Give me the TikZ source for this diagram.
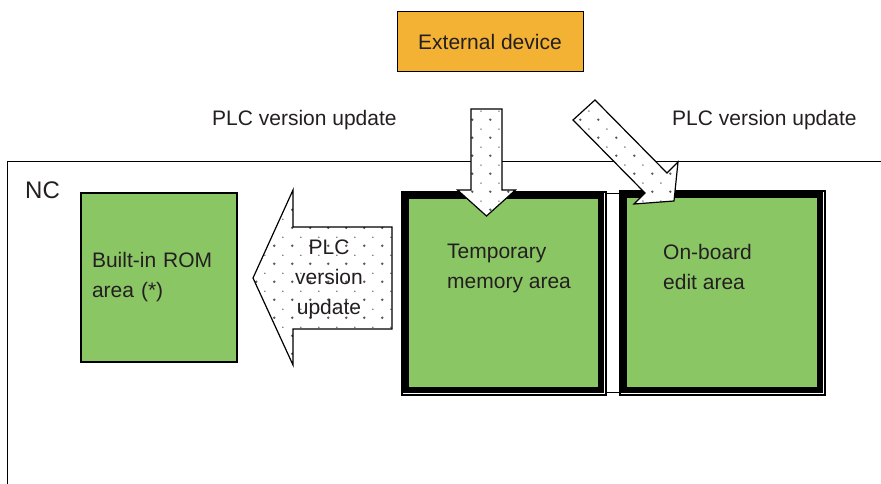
\documentclass[tikz,border=0pt]{standalone}
\usepackage{fontspec}
\setmainfont{Liberation Sans}
\usetikzlibrary{patterns}
\definecolor{extorange}{RGB}{244,178,52}
\definecolor{areagreen}{RGB}{139,198,101}
\definecolor{inkgray}{RGB}{35,31,32}

% dotted fill of the block arrows
\pgfdeclarepatternformonly{plcdots}{\pgfqpoint{0pt}{0pt}}{\pgfqpoint{18pt}{18pt}}{\pgfqpoint{18pt}{18pt}}{%
  \pgfpathcircle{\pgfqpoint{4.5pt}{4.5pt}}{1.4pt}
  \pgfpathcircle{\pgfqpoint{13.5pt}{13.5pt}}{0.8pt}
  \pgfusepath{fill}}

\begin{document}
\begin{tikzpicture}[x=1pt, y=-1pt,
  txt/.style={font=\fontsize{21}{30}\selectfont, text=inkgray, inner sep=0pt},
  extbox/.style={rectangle, draw=black, fill=extorange, line width=1pt, minimum width=186pt, minimum height=60pt, txt},
  rombox/.style={rectangle, draw=black, fill=areagreen, line width=1.2pt, minimum width=156pt, minimum height=169pt, text width=134pt, align=left, txt},
  membox/.style={rectangle, draw=black, fill=areagreen, line width=6pt, inner sep=0pt, outer sep=0pt},
  memframe/.style={draw=black, line width=2pt},
  blockarrow/.style={draw=black, line width=1.2pt, preaction={fill=white}, pattern=plcdots, pattern color=black!65}
]
\useasboundingbox (0,0) rectangle (881,484);

% NC
\draw[line width=1pt] (881,162) -- (7,162) -- (7,484);
\node[txt, font=\fontsize{24}{28}\selectfont, anchor=base west] (nc) at (25,198) {NC};

\node[extbox] (ext) at (490,42) {External device};
\node[rombox] (rom) at (159,277.5) {Built-in ROM\\area (*)};

\node[membox, minimum width=195pt, minimum height=194pt] (tmp) at (503.5,293) {};
\draw[memframe] ([xshift=-4.5pt,yshift=4.5pt]tmp.north west) rectangle ([xshift=4.5pt,yshift=-4.5pt]tmp.south east);
\node[txt, align=left, anchor=north west] (tmptxt) at (447,244) {Temporary\\memory area};

\node[membox, minimum width=196pt, minimum height=195pt] (edit) at (722,292.5) {};
\draw[memframe] ([xshift=-4.5pt,yshift=4.5pt]edit.north west) rectangle ([xshift=4.5pt,yshift=-4.5pt]edit.south east);
\node[txt, align=left, anchor=north west] (edittxt) at (663,244) {On-board\\edit area};

\draw[line width=1pt] (606,193) -- (619,193);
\draw[line width=1pt] (606,392) -- (619,392);

% block arrows
\draw[blockarrow] (471,109) -- (502,109) -- (502,190) -- (515.5,190) -- (486.5,216) -- (457.5,190) -- (471,190) -- cycle;
\draw[blockarrow] (573,120) -- (595,100) -- (667,173) -- (678,162) -- (674,201) -- (634,204) -- (645,193) -- cycle;
\draw[blockarrow] (392,227) -- (392,329) -- (293,329) -- (293,365) -- (253,278) -- (293,190) -- (293,227) -- cycle;
\node[txt, align=center] (upd) at (329,279) {PLC\\version\\update};

\node[txt, anchor=base west] (lblleft) at (212,126) {PLC version update};
\node[txt, anchor=base west] (lblright) at (672,126) {PLC version update};

\end{tikzpicture}
\end{document}
